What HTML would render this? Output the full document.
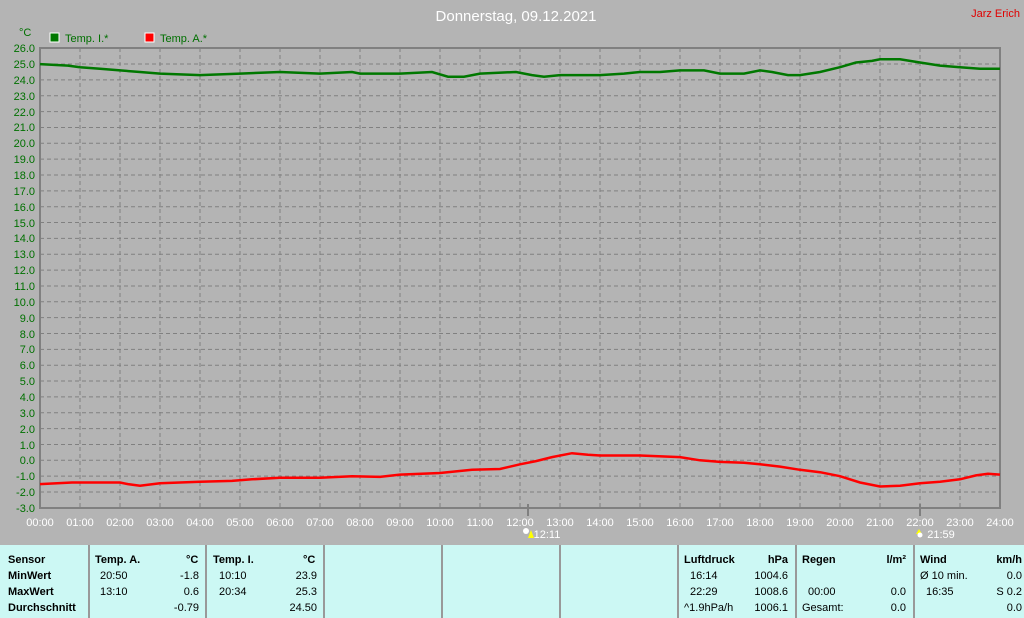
<!DOCTYPE html>
<html><head><meta charset="utf-8"><style>
body{margin:0;width:1024px;height:618px;background:#b4b4b4;overflow:hidden;font-family:"Liberation Sans",sans-serif;}
svg{position:absolute;left:0;top:0}
#tbl{position:absolute;left:0;top:545px;width:1024px;height:73px;background:#ccf8f4;}
.c{position:absolute;top:0;height:73px;border-left:2px solid #999;}
.t{position:absolute;font-size:11px;color:#000;}
.b{font-weight:bold;}
</style></head><body>
<svg width="1024" height="545" id="s">
<text x="516" y="21" font-size="15" fill="#ffffff" text-anchor="middle">Donnerstag, 09.12.2021</text>
<text x="1020" y="17" font-size="11" fill="#e00000" text-anchor="end">Jarz Erich</text>
<text x="19" y="36" font-size="11" fill="#007000">°C</text>
<rect x="50" y="33" width="9" height="9" fill="#007800" stroke="#fff"/>
<text x="65" y="42" font-size="11" fill="#007000">Temp. I.*</text>
<rect x="145" y="33" width="9" height="9" fill="#ff0000" stroke="#fff"/>
<text x="160" y="42" font-size="11" fill="#007000">Temp. A.*</text>
<g id="grid" stroke="#808080" stroke-dasharray="4,3" stroke-width="1"></g>
<g id="yl" font-size="11" fill="#007000" text-anchor="end">
<text x="35" y="52">26.0</text><text x="35" y="68">25.0</text><text x="35" y="84">24.0</text><text x="35" y="100">23.0</text><text x="35" y="116">22.0</text><text x="35" y="131">21.0</text><text x="35" y="147">20.0</text><text x="35" y="163">19.0</text><text x="35" y="179">18.0</text><text x="35" y="195">17.0</text><text x="35" y="211">16.0</text><text x="35" y="227">15.0</text><text x="35" y="242">14.0</text><text x="35" y="258">13.0</text><text x="35" y="274">12.0</text><text x="35" y="290">11.0</text><text x="35" y="306">10.0</text><text x="35" y="322">9.0</text><text x="35" y="338">8.0</text><text x="35" y="353">7.0</text><text x="35" y="369">6.0</text><text x="35" y="385">5.0</text><text x="35" y="401">4.0</text><text x="35" y="417">3.0</text><text x="35" y="433">2.0</text><text x="35" y="449">1.0</text><text x="35" y="464">0.0</text><text x="35" y="480">-1.0</text><text x="35" y="496">-2.0</text><text x="35" y="512">-3.0</text>
</g>
<g font-size="11" fill="#ffffff" text-anchor="middle">
<text x="40" y="526">00:00</text><text x="80" y="526">01:00</text><text x="120" y="526">02:00</text><text x="160" y="526">03:00</text><text x="200" y="526">04:00</text><text x="240" y="526">05:00</text><text x="280" y="526">06:00</text><text x="320" y="526">07:00</text><text x="360" y="526">08:00</text><text x="400" y="526">09:00</text><text x="440" y="526">10:00</text><text x="480" y="526">11:00</text><text x="520" y="526">12:00</text><text x="560" y="526">13:00</text><text x="600" y="526">14:00</text><text x="640" y="526">15:00</text><text x="680" y="526">16:00</text><text x="720" y="526">17:00</text><text x="760" y="526">18:00</text><text x="800" y="526">19:00</text><text x="840" y="526">20:00</text><text x="880" y="526">21:00</text><text x="920" y="526">22:00</text><text x="960" y="526">23:00</text><text x="1000" y="526">24:00</text>
<text x="547" y="538">12:11</text><text x="941" y="538">21:59</text>
</g>
<circle cx="526" cy="531" r="3" fill="#fff"/><polygon points="528,538 531,530 534,538" fill="#ff0"/>
<polygon points="916,534 919,529 922,534" fill="#ff0"/><circle cx="920" cy="535" r="2.5" fill="#fff"/>
<line x1="528" y1="504" x2="528" y2="516" stroke="#808080" stroke-width="2"/>
<line x1="920" y1="504" x2="920" y2="516" stroke="#808080" stroke-width="2"/>
<rect x="40" y="48" width="960" height="460" fill="none" stroke="#808080" stroke-width="2"/>
<polyline id="g" fill="none" stroke="#007800" stroke-width="2.5"/>
<polyline id="r" fill="none" stroke="#ff0000" stroke-width="2.5"/>
</svg>
<div id="tbl">
<div class="c" style="left:88px"></div><div class="c" style="left:205px"></div><div class="c" style="left:323px"></div><div class="c" style="left:441px"></div><div class="c" style="left:559px"></div><div class="c" style="left:677px"></div><div class="c" style="left:795px"></div><div class="c" style="left:913px"></div>
<div class="t b" style="left:8px;top:9px">Sensor</div><div class="t b" style="left:8px;top:25px">MinWert</div><div class="t b" style="left:8px;top:41px">MaxWert</div><div class="t b" style="left:8px;top:57px">Durchschnitt</div>
<div class="t b" style="left:95px;top:9px">Temp. A.</div><div class="t b" style="left:186px;top:9px">°C</div>
<div class="t" style="left:100px;top:25px">20:50</div><div class="t" style="right:825px;top:25px">-1.8</div>
<div class="t" style="left:100px;top:41px">13:10</div><div class="t" style="right:825px;top:41px">0.6</div>
<div class="t" style="right:825px;top:57px">-0.79</div>
<div class="t b" style="left:213px;top:9px">Temp. I.</div><div class="t b" style="left:303px;top:9px">°C</div>
<div class="t" style="left:219px;top:25px">10:10</div><div class="t" style="right:707px;top:25px">23.9</div>
<div class="t" style="left:219px;top:41px">20:34</div><div class="t" style="right:707px;top:41px">25.3</div>
<div class="t" style="right:707px;top:57px">24.50</div>
<div class="t b" style="left:684px;top:9px">Luftdruck</div><div class="t b" style="right:236px;top:9px">hPa</div>
<div class="t" style="left:690px;top:25px">16:14</div><div class="t" style="right:236px;top:25px">1004.6</div>
<div class="t" style="left:690px;top:41px">22:29</div><div class="t" style="right:236px;top:41px">1008.6</div>
<div class="t" style="left:684px;top:57px">^1.9hPa/h</div><div class="t" style="right:236px;top:57px">1006.1</div>
<div class="t b" style="left:802px;top:9px">Regen</div><div class="t b" style="right:118px;top:9px">l/m²</div>
<div class="t" style="left:808px;top:41px">00:00</div><div class="t" style="right:118px;top:41px">0.0</div>
<div class="t" style="left:802px;top:57px">Gesamt:</div><div class="t" style="right:118px;top:57px">0.0</div>
<div class="t b" style="left:920px;top:9px">Wind</div><div class="t b" style="right:2px;top:9px">km/h</div>
<div class="t" style="left:920px;top:25px">Ø 10 min.</div><div class="t" style="right:2px;top:25px">0.0</div>
<div class="t" style="left:926px;top:41px">16:35</div><div class="t" style="right:2px;top:41px">S 0.2</div>
<div class="t" style="right:2px;top:57px">0.0</div>
</div>
<script>
var ns="http://www.w3.org/2000/svg",gr=document.getElementById("grid");
function Y(v){return 460.3-v*15.85}
function ln(a,b,c,d){var l=document.createElementNS(ns,"line");l.setAttribute("x1",a);l.setAttribute("y1",b);l.setAttribute("x2",c);l.setAttribute("y2",d);gr.appendChild(l);}
for(var v=-2;v<=25;v++)ln(40,Y(v),1000,Y(v));
for(var h=1;h<24;h++)ln(40+h*40,48,40+h*40,508);
var gd=[[0,25.0],[0.7,24.9],[1,24.8],[1.5,24.7],[2,24.6],[2.5,24.5],[3,24.4],[4,24.3],[5,24.4],[6,24.5],[7,24.4],[7.8,24.5],[8,24.4],[9,24.4],[9.8,24.5],[10.2,24.2],[10.6,24.2],[11,24.4],[11.9,24.5],[12.3,24.3],[12.6,24.2],[13,24.3],[14,24.3],[14.6,24.4],[15,24.5],[15.5,24.5],[16,24.6],[16.6,24.6],[17,24.4],[17.6,24.4],[18,24.6],[18.3,24.5],[18.7,24.3],[19,24.3],[19.5,24.5],[20,24.8],[20.4,25.1],[20.8,25.2],[21,25.3],[21.5,25.3],[22,25.1],[22.5,24.9],[23,24.8],[23.5,24.7],[24,24.7]];
var rd=[[0,-1.5],[0.8,-1.4],[2,-1.4],[2.2,-1.5],[2.5,-1.6],[3,-1.45],[4,-1.35],[4.8,-1.3],[5.3,-1.2],[6,-1.1],[7,-1.1],[7.8,-1.0],[8.5,-1.05],[9,-0.9],[10,-0.8],[10.8,-0.6],[11.5,-0.55],[12,-0.25],[12.4,-0.05],[12.8,0.2],[13.3,0.45],[13.7,0.35],[14,0.3],[15,0.3],[16,0.2],[16.5,0.0],[17,-0.1],[17.6,-0.15],[18,-0.25],[18.5,-0.4],[19,-0.6],[19.5,-0.75],[20,-1.0],[20.5,-1.4],[21,-1.65],[21.5,-1.6],[22,-1.45],[22.5,-1.35],[23,-1.2],[23.4,-0.95],[23.7,-0.85],[24,-0.9]];
function pts(d){return d.map(function(p){return (40+p[0]*40)+","+Y(p[1]).toFixed(1)}).join(" ")}
document.getElementById("g").setAttribute("points",pts(gd));
document.getElementById("r").setAttribute("points",pts(rd));
</script>
</body></html>
